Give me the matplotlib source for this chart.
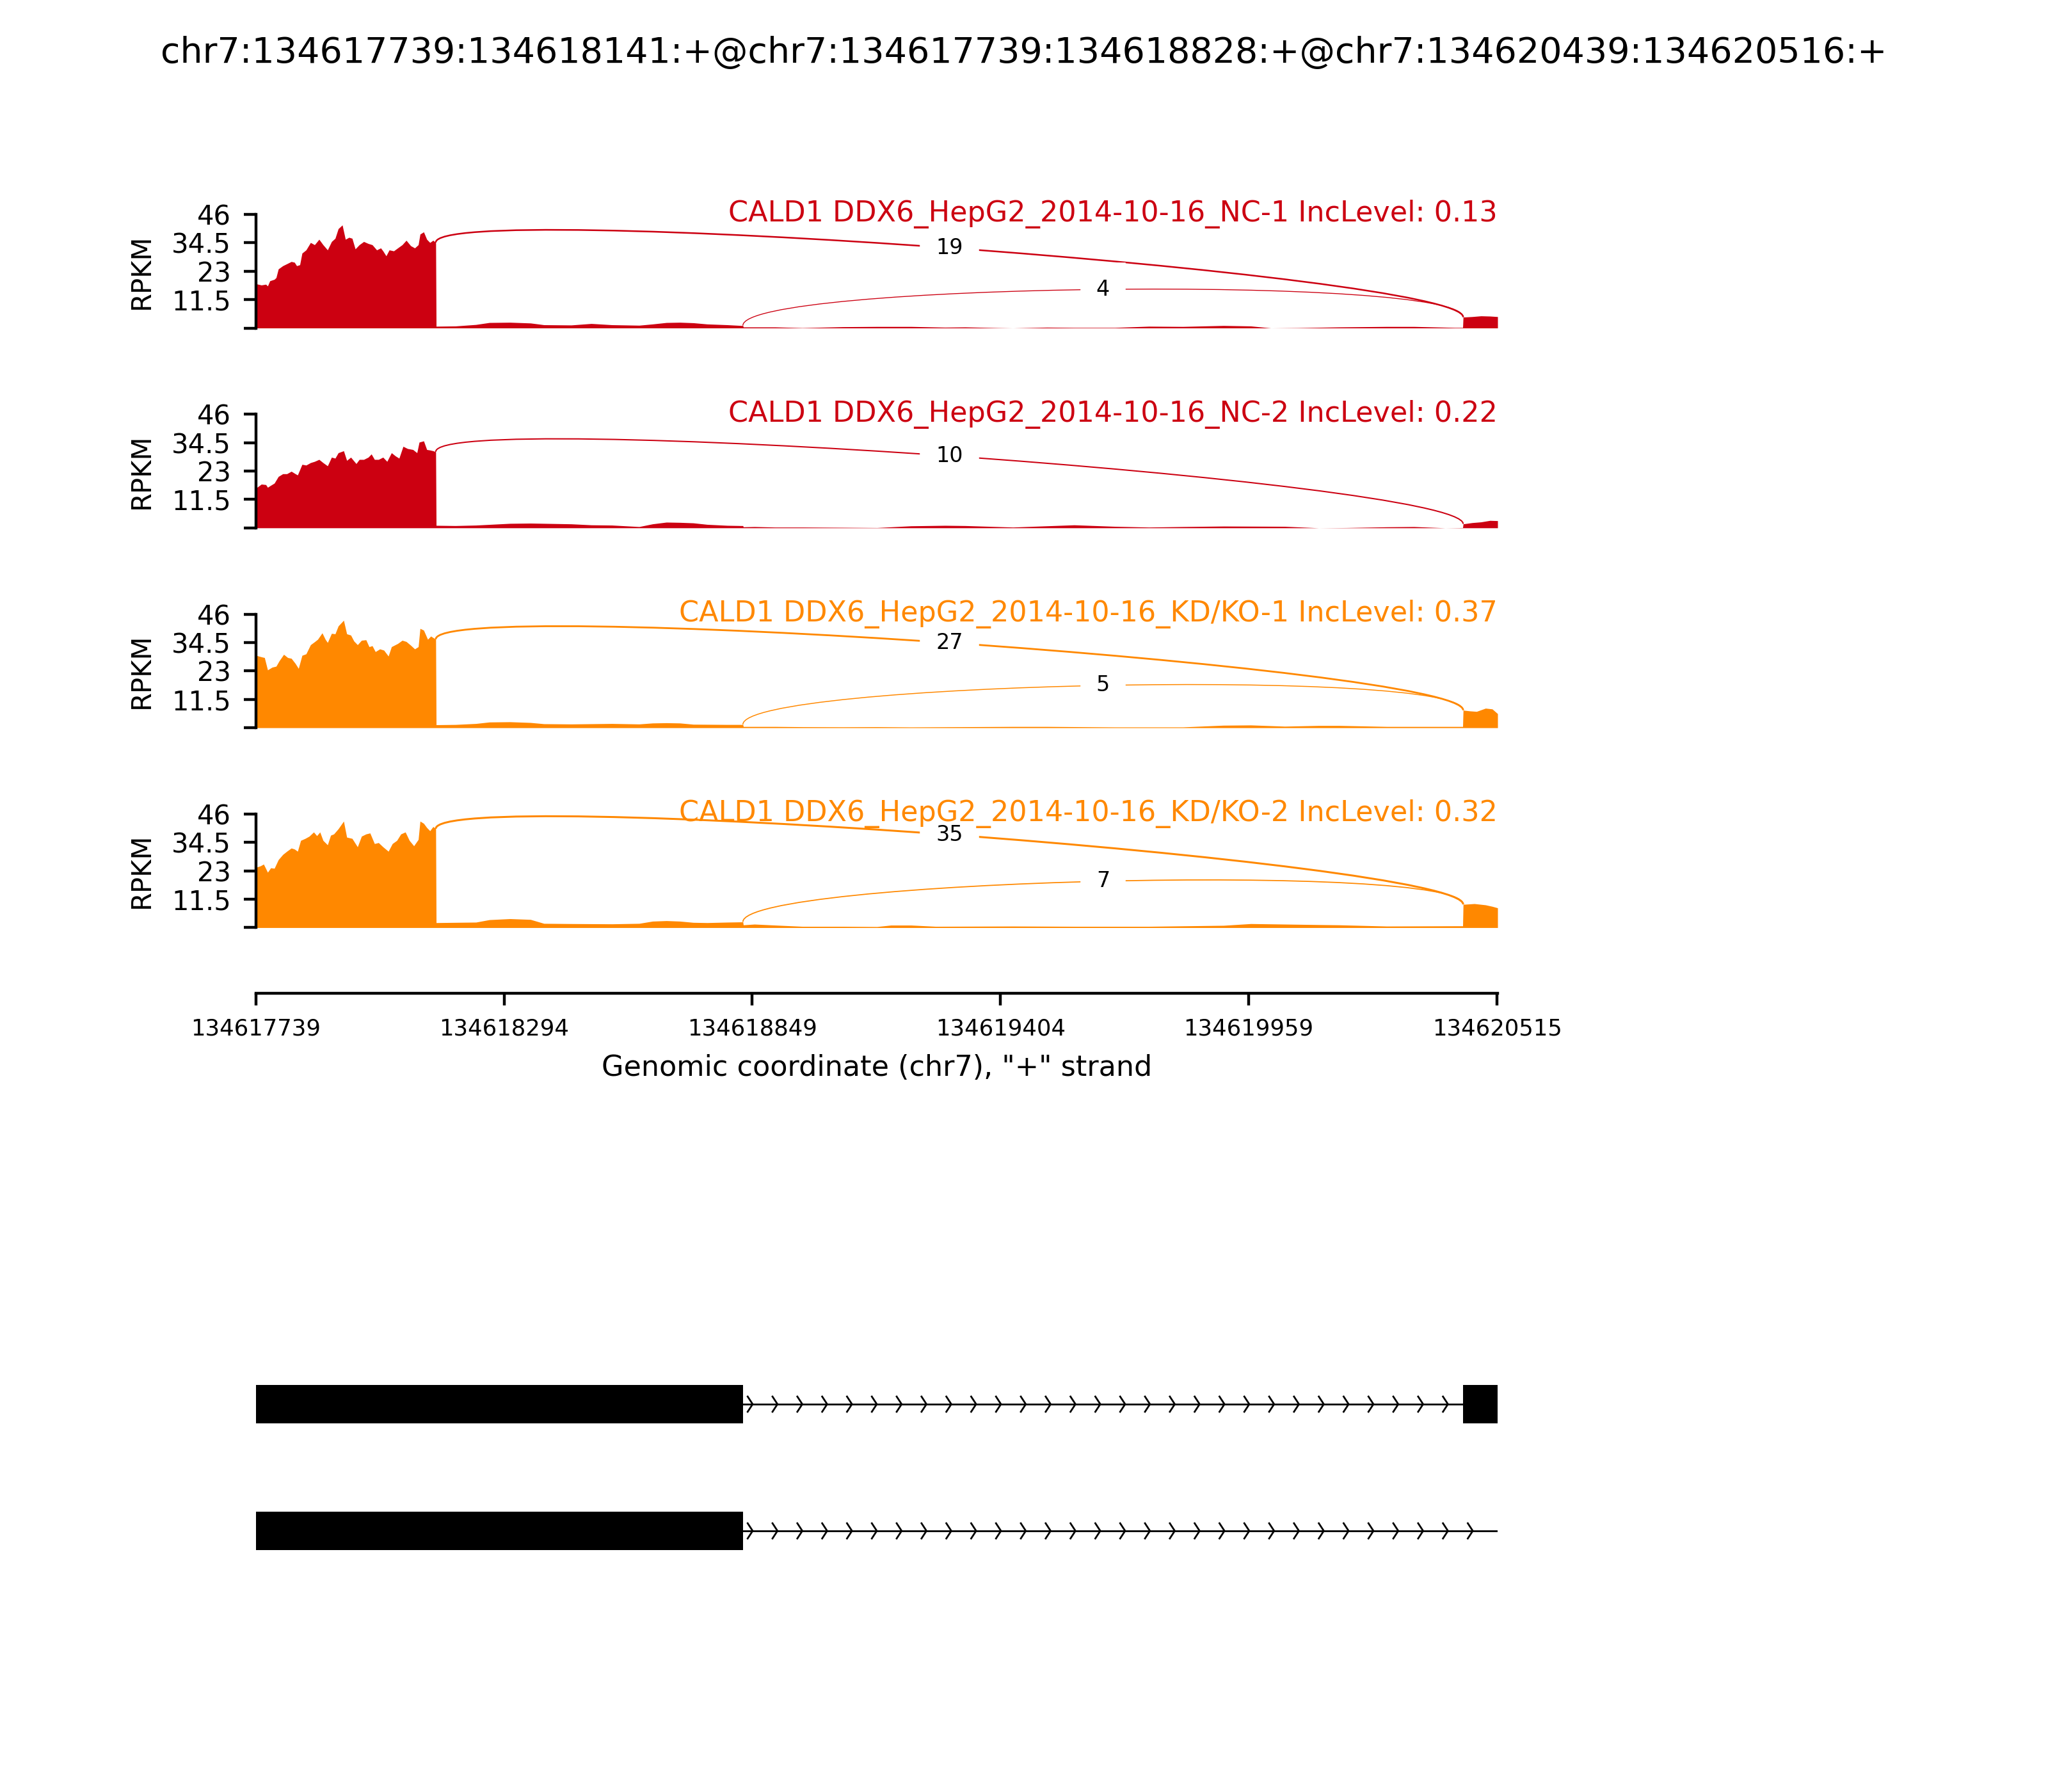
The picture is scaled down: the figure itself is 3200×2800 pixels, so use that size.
import numpy as np
import matplotlib
matplotlib.use('Agg')
import matplotlib.pyplot as plt
from matplotlib.path import Path
from matplotlib.patches import PathPatch

chrom = 'chr7'
strand = '+'
tx_start = 134617739
tx_end = 134620516
event_title = 'chr7:134617739:134618141:+@chr7:134617739:134618828:+@chr7:134620439:134620516:+'

sample_labels = ['CALD1 DDX6_HepG2_2014-10-16_NC-1 IncLevel: 0.13',
                 'CALD1 DDX6_HepG2_2014-10-16_NC-2 IncLevel: 0.22',
                 'CALD1 DDX6_HepG2_2014-10-16_KD/KO-1 IncLevel: 0.37',
                 'CALD1 DDX6_HepG2_2014-10-16_KD/KO-2 IncLevel: 0.32']
sample_colors = ['#CC0011', '#CC0011', '#FF8800', '#FF8800']

ymax = 46
ytick_labels = ['', '11.5', '23', '34.5', '46']
xtick_labels = ['134617739', '134618294', '134618849', '134619404', '134619959', '134620515']

# coverage (RPKM), positions are bp offsets from tx_start
nc1_pos = [0, 12, 22, 26, 31, 41, 45, 50, 60, 69, 79, 86, 91, 98, 103, 112, 122, 131, 141, 150,
           160, 169, 177, 184, 193, 200, 208, 215, 222, 231, 241, 251, 260, 270, 279, 284, 291, 298,
           308, 317, 327, 336, 346, 355, 363, 367, 375, 382, 389, 396, 402,
           403, 446, 492, 522, 568, 614, 644, 705, 750, 796, 857, 887, 918, 948, 978, 1009, 1054,
           1085, 1089, 1090, 1161, 1222, 1313, 1389, 1465, 1541, 1586, 1660, 1693, 1769, 1830, 1921,
           1997, 2073, 2164, 2225, 2270, 2330, 2422, 2529, 2590, 2681, 2699, 2700, 2720, 2740, 2760, 2777]
nc1_cov = [17.9, 17.4, 17.7, 17.0, 19.1, 19.7, 20.4, 23.9, 25.2, 26.0, 26.9, 26.6, 25.2, 25.6, 30.3,
           31.6, 34.6, 33.7, 35.9, 33.7, 31.6, 35.0, 36.3, 40.2, 41.7, 35.9, 36.7, 36.3, 32.0, 33.7,
           35.0, 34.2, 33.7, 31.6, 32.4, 31.2, 29.2, 31.6, 31.2, 32.4, 33.7, 35.5, 33.3, 32.4, 33.7,
           38.0, 38.9, 35.9, 34.6, 35.5, 34.6,
           0.7, 0.8, 1.4, 2.2, 2.3, 2.0, 1.3, 1.2, 1.8, 1.3, 1.1, 1.6, 2.2, 2.3, 2.1, 1.6, 1.3,
           1.0, 1.0, 0.4, 0.4, 0.1, 0.5, 0.6, 0.6, 0.3, 0.4, 0.1, 0.0, 0.3, 0.2, 0.2,
           0.7, 0.6, 1.0, 0.8, 0.0, 0.1, 0.4, 0.6, 0.6, 0.2, 0.2, 4.4, 4.6, 4.9, 4.8, 4.6]

nc2_pos = [0, 12, 22, 26, 31, 41, 50, 60, 69, 79, 88, 93, 103, 112, 122, 131, 141, 150, 160, 169,
           177, 184, 196, 203, 212, 224, 231, 241, 251, 258, 265, 274, 284, 293, 303, 312, 320, 329,
           339, 351, 360, 365, 375, 382, 389, 396, 402,
           403, 446, 492, 568, 614, 705, 750, 796, 857, 887, 918, 948, 978, 1009, 1054, 1085, 1089,
           1090, 1115, 1161, 1222, 1313, 1389, 1465, 1541, 1586, 1693, 1769, 1830, 1921, 1997, 2073,
           2164, 2301, 2377, 2440, 2529, 2590, 2660, 2699, 2700, 2720, 2740, 2760, 2777]
nc2_cov = [16.1, 17.7, 17.5, 16.4, 17.0, 18.1, 20.8, 21.9, 21.9, 22.9, 21.9, 21.4, 25.7, 25.4, 26.4,
           26.9, 27.7, 26.4, 25.1, 28.6, 28.2, 30.4, 31.2, 27.3, 28.6, 26.0, 27.7, 27.7, 28.6, 29.9,
           27.7, 27.7, 28.6, 26.9, 30.4, 29.1, 28.2, 33.0, 32.1, 31.7, 30.4, 34.7, 35.2, 31.7, 31.5,
           31.2, 30.8,
           1.0, 0.9, 1.1, 1.8, 1.9, 1.6, 1.2, 1.1, 0.5, 1.6, 2.3, 2.2, 2.0, 1.4, 1.0, 0.9, 0.9,
           0.4, 0.5, 0.3, 0.3, 0.2, 0.1, 0.8, 1.0, 0.9, 0.3, 0.8, 1.2, 0.6, 0.3, 0.5,
           0.7, 0.6, 0.0, 0.1, 0.4, 0.5, 0.0, 0.1, 1.6, 2.1, 2.4, 3.0, 2.9]

kd1_pos = [0, 12, 19, 26, 36, 45, 52, 62, 71, 79, 88, 95, 103, 112, 122, 131, 138, 148, 155, 160,
           169, 177, 184, 196, 203, 212, 219, 227, 236, 246, 253, 260, 267, 277, 286, 296, 303, 317,
           327, 336, 346, 355, 363, 367, 375, 384, 391, 402,
           403, 446, 492, 522, 568, 614, 644, 705, 796, 857, 887, 918, 948, 978, 1054, 1085, 1089,
           1090, 1161, 1222, 1313, 1389, 1465, 1693, 1769, 1921, 2073, 2164, 2225, 2301, 2377, 2422,
           2529, 2681, 2699, 2700, 2715, 2730, 2750, 2765, 2777]
kd1_cov = [29.3, 28.7, 28.4, 23.4, 24.5, 24.9, 27.1, 29.7, 28.4, 28.1, 26.0, 24.0, 29.3, 29.9, 33.6,
           34.8, 35.8, 38.4, 35.8, 34.5, 38.2, 38.0, 41.2, 43.5, 38.0, 37.5, 35.1, 33.6, 35.4, 35.6,
           32.8, 33.2, 30.8, 31.9, 31.4, 29.0, 32.8, 34.1, 35.4, 34.9, 33.4, 31.9, 32.8, 40.2, 39.5,
           35.8, 37.1, 35.8,
           1.2, 1.3, 1.7, 2.3, 2.4, 2.1, 1.6, 1.5, 1.7, 1.5, 1.9, 2.0, 1.9, 1.4, 1.3, 1.3, 1.3,
           0.5, 0.5, 0.4, 0.35, 0.4, 0.3, 0.5, 0.5, 0.3, 0.3, 1.0, 1.1, 0.6, 0.9, 0.9,
           0.5, 0.5, 0.5, 7.1, 6.8, 6.6, 7.9, 7.6, 5.7]

kd2_pos = [0, 10, 17, 26, 33, 41, 50, 60, 69, 79, 86, 93, 100, 110, 119, 129, 136, 143, 150, 160,
           167, 174, 184, 196, 203, 215, 227, 236, 246, 255, 265, 274, 284, 296, 305, 315, 324, 334,
           343, 353, 363, 367, 375, 382, 389, 396, 402,
           403, 446, 492, 522, 568, 614, 644, 705, 796, 857, 887, 918, 948, 978, 1009, 1054, 1085,
           1089, 1090, 1115, 1161, 1222, 1313, 1389, 1420, 1465, 1520, 1693, 1830, 1997, 2164, 2225,
           2301, 2377, 2422, 2529, 2681, 2699, 2700, 2725, 2750, 2765, 2777]
kd2_cov = [24.4, 25.0, 25.7, 22.4, 24.2, 24.0, 27.5, 29.6, 30.9, 32.2, 31.8, 30.9, 35.3, 36.1, 37.0,
           38.7, 37.2, 38.7, 35.3, 33.5, 37.4, 37.9, 40.0, 43.1, 36.6, 36.1, 32.7, 37.0, 37.9, 38.3,
           34.0, 34.4, 32.7, 30.9, 34.0, 35.3, 37.9, 38.7, 35.3, 33.1, 35.7, 43.1, 42.2, 40.5, 39.2,
           40.9, 40.0,
           2.0, 2.1, 2.2, 3.2, 3.6, 3.3, 1.7, 1.6, 1.5, 1.7, 2.6, 2.8, 2.6, 2.1, 2.0, 2.2, 2.3,
           2.3, 1.1, 1.4, 1.0, 0.5, 0.5, 0.4, 1.0, 1.0, 0.5, 0.6, 0.5, 0.5, 0.9, 1.6,
           1.4, 1.2, 1.1, 0.6, 0.7, 0.7, 9.4, 9.7, 9.2, 8.6, 8.0]

# junctions: (left splice site, right splice site, read count)
nc1_junctions = [(134618141, 134620439, 19), (134618828, 134620439, 4)]
nc2_junctions = [(134618141, 134620439, 10)]
kd1_junctions = [(134618141, 134620439, 27), (134618828, 134620439, 5)]
kd2_junctions = [(134618141, 134620439, 35), (134618828, 134620439, 7)]

isoforms = [[(134617739, 134618141), (134618141, 134618828)],
            [(134617739, 134618141), (134618141, 134618828), (134620439, 134620516)]]

samples = [(nc1_pos, nc1_cov, nc1_junctions),
           (nc2_pos, nc2_cov, nc2_junctions),
           (kd1_pos, kd1_cov, kd1_junctions),
           (kd2_pos, kd2_cov, kd2_junctions)]

ylim_low = -26.5


def cubic_bezier(pts, t):
    p0, p1, p2, p3 = [np.array(p) for p in pts]
    return (1 - t) ** 3 * p0 + 3 * (1 - t) ** 2 * t * p1 + 3 * (1 - t) * t ** 2 * p2 + t ** 3 * p3


def plot_density(ax, pos, cov, junctions, color, label, show_x):
    pos = np.array(pos)
    x = tx_start + pos
    ax.fill_between(x, cov, y2=0, color=color, lw=0)

    h = 3 * ymax / 8
    for left, right, count in junctions:
        leftdens = np.interp(left - tx_start, pos, cov)
        rightdens = np.interp(right - tx_start, pos, cov)
        pts = [(left, leftdens), (left, leftdens + h), (right, rightdens + h), (right, rightdens)]
        midpt = cubic_bezier(pts, 0.5)
        ax.text(midpt[0], midpt[1], str(count), fontsize=6, ha='center', va='center',
                backgroundcolor='w')
        a = Path(pts, [Path.MOVETO, Path.CURVE4, Path.CURVE4, Path.CURVE4])
        p = PathPatch(a, ec=color, lw=np.log10(count + 1) * 0.35, fc='none')
        ax.add_patch(p)

    ax.text(tx_end, ymax, label, fontsize=8, ha='right', va='center', color=color)

    ax.set_xlim(tx_start, tx_end)
    ax.set_ylim(ylim_low, ymax)
    ax.spines['right'].set_visible(False)
    ax.spines['top'].set_visible(False)
    ax.spines['left'].set_bounds(0, ymax)
    ax.set_yticks(np.linspace(0, ymax, 5))
    ax.set_yticklabels(ytick_labels, fontsize=7.5)
    ax.set_ylabel('RPKM', fontsize=7.5)
    # centre the label on the drawn part of the y axis
    ax.yaxis.set_label_coords(-0.0814, (ymax / 2 - ylim_low) / (ymax - ylim_low))
    if show_x:
        ax.set_xticks([int(t) for t in xtick_labels])
        ax.set_xticklabels(xtick_labels, fontsize=6.4)
        ax.set_xlabel('Genomic coordinate (%s), "%s" strand' % (chrom, strand), fontsize=8)
    else:
        ax.spines['bottom'].set_visible(False)
        ax.set_xticks([])


def plot_mrnas(ax):
    exonwidth = 0.3
    narrows = 50
    length = tx_end - tx_start
    spread = 0.2 * length / narrows
    yloc = 0
    for mrna in isoforms:
        for s, e in mrna:
            ax.fill([s, e, e, s],
                    [yloc - exonwidth / 2, yloc - exonwidth / 2, yloc + exonwidth / 2, yloc + exonwidth / 2],
                    'k', lw=0.5, zorder=20)
        ax.axhline(yloc, color='k', lw=0.5)
        for i in range(narrows):
            loc = tx_start + float(i) * length / narrows
            ax.plot([loc - spread, loc, loc - spread],
                    [yloc - exonwidth / 5, yloc, yloc + exonwidth / 5], lw=0.5, color='k')
        yloc += 1
    ax.set_xlim(tx_start, tx_end)
    ax.set_ylim(-0.5, len(isoforms) + 0.5)
    ax.set_axis_off()


W, H = 3200.0, 2800.0
fig = plt.figure(figsize=(8, 7), dpi=400)
fig.suptitle(event_title, fontsize=10)

left = 400 / W
width = 1940 / W
panel_h = 279.8
for i, (pos, cov, jxns) in enumerate(samples):
    top = 335 + 312.3 * i
    ax = fig.add_axes([left, 1 - (top + panel_h) / H, width, panel_h / H])
    plot_density(ax, pos, cov, jxns, sample_colors[i], sample_labels[i], i == len(samples) - 1)

gax = fig.add_axes([left, 1 - 2491 / H, width, 594 / H])
plot_mrnas(gax)

fig.savefig('out.png', dpi=400)
